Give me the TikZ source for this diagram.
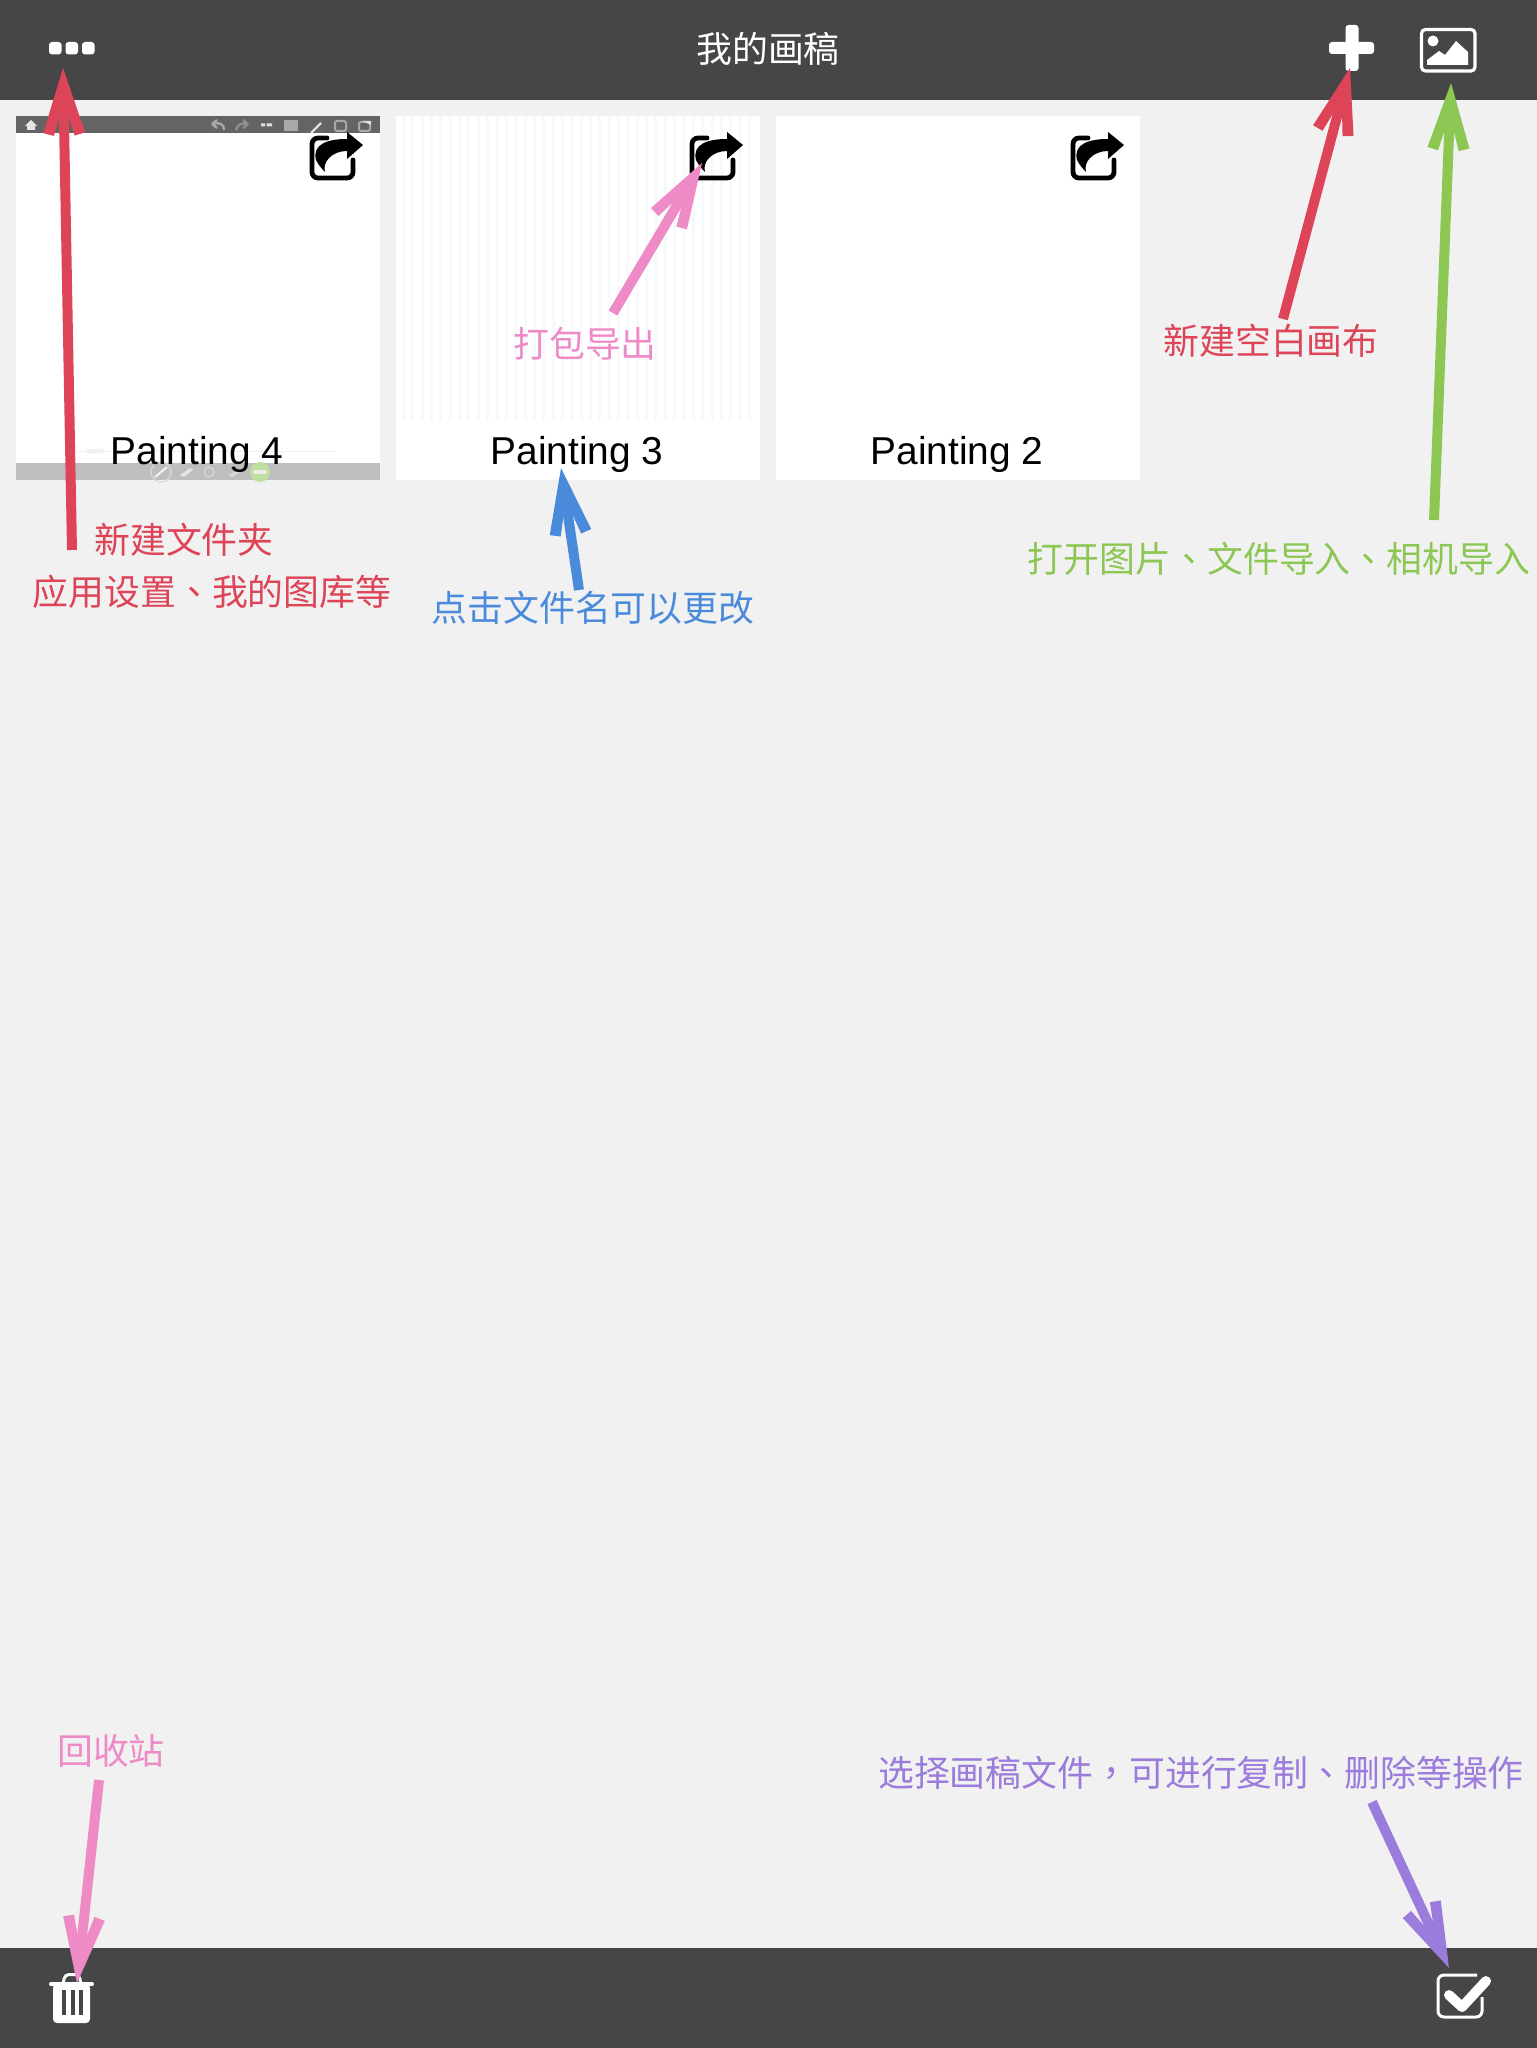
\documentclass[tikz,border=0pt]{standalone}
\usepackage{fontspec}
\setmainfont{Liberation Sans}
\newfontfamily\cjk{Noto Sans CJK SC}
\newfontfamily\cjkmark{Noto Sans CJK TC}
\usetikzlibrary{arrows.meta}
\definecolor{barbg}{HTML}{464646}
\definecolor{pagebg}{HTML}{F1F1F1}
\definecolor{notered}{HTML}{DE4458}
\definecolor{notepink}{HTML}{EE8AC6}
\definecolor{notegreen}{HTML}{8CC653}
\definecolor{noteblue}{HTML}{4A8ADB}
\definecolor{notepurple}{HTML}{9B7BDB}
\definecolor{thumbtop}{HTML}{646464}
\definecolor{thumbbot}{HTML}{BEBEBE}
\definecolor{thumbicon}{HTML}{A8A8A8}
\definecolor{thumbstripe}{HTML}{F7FAFD}
\pgfdeclarearrow{
  name=NoteHead,
  setup code={
    \pgfarrowssettipend{0pt}
    \pgfarrowssetlineend{-20pt}
    \pgfarrowssetbackend{-34pt}
    \pgfarrowssetvisualbackend{-20pt}
  },
  drawing code={
    \pgfpathmoveto{\pgfpoint{0pt}{0pt}}
    \pgfpathlineto{\pgfpoint{-32.5pt}{10.5pt}}
    \pgfpathlineto{\pgfpoint{-34pt}{5.2pt}}
    \pgfpathlineto{\pgfpoint{-23pt}{2pt}}
    \pgfpathlineto{\pgfpoint{-23pt}{-2pt}}
    \pgfpathlineto{\pgfpoint{-34pt}{-5.2pt}}
    \pgfpathlineto{\pgfpoint{-32.5pt}{-10.5pt}}
    \pgfpathclose
    \pgfusepathqfill
  }
}
\tikzset{
  callout/.style={draw=#1,line width=5pt,-{NoteHead}},
  note/.style={text=#1,font=\cjk\fontsize{18}{22}\selectfont,inner sep=0pt},
  card/.style={fill=white,draw=none},
  cardname/.style={anchor=base,inner sep=0pt,font=\fontsize{19.5}{24}\selectfont},
  shareicon/.pic={
    \draw[line width=2.4pt,line cap=round,rounded corners=3pt] (17,2) -- (2,2) -- (2,42) -- (43,42) -- (43,24);
    \fill (53,9) -- (37,-4) -- (37,3) .. controls (18,3) and (2,8) .. (6,24)
      .. controls (8,28) and (11,32) .. (15,36) .. controls (12,26) and (22,15) .. (37,15) -- (37,23) -- cycle;
  }
}
\begin{document}
\begin{tikzpicture}[x=0.5bp,y=-0.5bp]
  \useasboundingbox (0,0) rectangle (1536,2048);
  \fill[pagebg] (-4,-4) rectangle (1540,2052);
  % bars
  \fill[barbg] (-4,-4) rectangle (1540,100);
  \fill[barbg] (-4,1948) rectangle (1540,2052);
  \node[text=white,font=\cjk\fontsize{18}{22}\selectfont,inner sep=0pt] (title) at (768,49) {我的画稿};
  % cards
  \fill[card] (16,116) rectangle (380,480);
  \fill[card] (396,116) rectangle (760,480);
  \fill[card] (776,116) rectangle (1140,480);
  \foreach \i in {0,...,37}
    \fill[thumbstripe] ({402+9.35*\i},116) rectangle ({405+9.35*\i},420);
  % thumbnail of card one
  \fill[thumbtop] (16,116) rectangle (380,133);
  \fill[thumbbot] (16,463) rectangle (380,480);
  \draw[gray!12,line width=.3pt] (70,451) -- (335,451);
  \fill[gray!12,rounded corners=1pt] (86,449) rectangle (104,453);
  \fill[white!80!gray] (25,126) -- (31,120) -- (37,126) -- (35,126) -- (35,130) -- (27,130) -- (27,126) -- cycle;
  \draw[thumbicon,line width=1.2pt] (212,124) -- (217,120) (212,124) -- (217,128) (212,124) .. controls (220,122) and (224,124) .. (224,130);
  \draw[thumbicon!85!black,line width=1.2pt] (248,124) -- (243,120) (248,124) -- (243,128) (248,124) .. controls (242,122) and (237,125) .. (236,130);
  \fill[white!75!gray] (261,123.5) rectangle (265,126.5) (266.5,123.5) rectangle (270.5,126.5) (268,123.5) rectangle (272,126.5);
  \fill[thumbicon] (284,120) rectangle (298,131);
  \draw[white!75!gray,line width=1.2pt] (311,133) -- (321,123);
  \draw[thumbicon,line width=1pt,rounded corners=1pt] (335,121) rectangle (346,131);
  \draw[thumbicon,line width=1pt,rounded corners=1pt] (359,122) rectangle (370,131);
  \fill[white!75!gray] (362,121) -- (371,121) -- (371,125) -- cycle;
  \draw[white!70!gray,line width=.6pt] (161,472) circle (10);
  \draw[white!90!gray,line width=1pt] (155,477) -- (167,467);
  \fill[white!80!gray] (180,475) -- (190,468) -- (193,470) -- (184,477) -- cycle;
  \draw[white!70!gray,line width=.6pt] (209,472) circle (5);
  \fill[white!70!gray] (229,475) -- (238,470) -- (240,472) -- (232,477) -- cycle;
  \fill[notegreen!55!white] (260,472) circle (10);
  \fill[white!85!gray] (254,470) rectangle (266,474);
  % icons
  \pic (sharea) at (310,136) {shareicon};
  \pic (shareb) at (690,136) {shareicon};
  \pic (sharec) at (1071,136) {shareicon};
  \node[cardname] (paintfour) at (197,464) {Painting 4};
  \node[cardname] (paintthree) at (577,464) {Painting 3};
  \node[cardname] (painttwo) at (957,464) {Painting 2};
  \foreach \x in {49,65.5,82}
    \fill[white,rounded corners=1.5pt] (\x,42) rectangle ++(12.5,12.5);
  \fill[white,rounded corners=1.5pt] (1345.5,25) rectangle (1358.5,71);
  \fill[white,rounded corners=1.5pt] (1329,42) rectangle (1374,54);
  \draw[white,line width=1.6pt,rounded corners=2pt] (1421.5,29.5) rectangle (1475,71);
  \fill[white] (1433,41) circle (5.5);
  \fill[white] (1427,65) -- (1427,60) -- (1439,51) -- (1445,55) -- (1456,41) -- (1468,52) -- (1468,65) -- cycle;
  \fill[white,rounded corners=1pt] (49,1982) rectangle (94,1986);
  \draw[white,line width=1.5pt,rounded corners=2pt] (63,1984) -- (65,1974.5) -- (79,1974.5) -- (81,1984);
  \fill[white,rounded corners=2pt] (53,1984) rectangle (90,2023);
  \foreach \x in {62,70.5,79}
    \fill[barbg] (\x,1990) rectangle ++(4,25);
  \draw[white,line width=1.5pt,rounded corners=3pt] (1477,1975) -- (1438,1975) -- (1438,2017) -- (1482,2017) -- (1482,1997);
  \draw[white,line width=5pt,line cap=round,line join=round] (1449,1995) -- (1462,2007) -- (1486,1981);
  % notes
  \node[note=notered] (newfolder) at (184,540) {新建文件夹};
  \node[note=notered] (settings) at (212,592) {应用设置{\cjkmark 、}我的图库等};
  \node[note=notered] (newcanvas) at (1271,341) {新建空白画布};
  \node[note=notepink] (export) at (585,344) {打包导出};
  \node[note=notegreen] (openimg) at (1279,559) {打开图片{\cjkmark 、}文件导入{\cjkmark 、}相机导入};
  \node[note=noteblue] (rename) at (593,608) {点击文件名可以更改};
  \node[note=notepink] (trashnote) at (111,1751) {回收站};
  \node[note=notepurple] (selectnote) at (1201,1773) {选择画稿文件{\cjkmark ，}可进行复制{\cjkmark 、}删除等操作};
  % arrows
  \coordinate (foldertail) at (72,550);
  \coordinate (foldertip) at (63,68);
  \coordinate (canvastail) at (1283,319);
  \coordinate (canvastip) at (1350,68);
  \coordinate (opentail) at (1434,520);
  \coordinate (opentip) at (1451,83);
  \coordinate (exporttail) at (613,313);
  \coordinate (exporttip) at (702,163);
  \coordinate (renametail) at (579,590);
  \coordinate (renametip) at (561,468);
  \coordinate (trashtail) at (99,1780);
  \coordinate (trashtip) at (77,1983);
  \coordinate (selecttail) at (1372,1802);
  \coordinate (selecttip) at (1449,1968);
  \draw[callout=notered] (foldertail) -- (foldertip);
  \draw[callout=notered] (canvastail) -- (canvastip);
  \draw[callout=notegreen] (opentail) -- (opentip);
  \draw[callout=notepink] (exporttail) -- (exporttip);
  \draw[callout=noteblue] (renametail) -- (renametip);
  \draw[callout=notepink] (trashtail) -- (trashtip);
  \draw[callout=notepurple] (selecttail) -- (selecttip);
\end{tikzpicture}
\end{document}
